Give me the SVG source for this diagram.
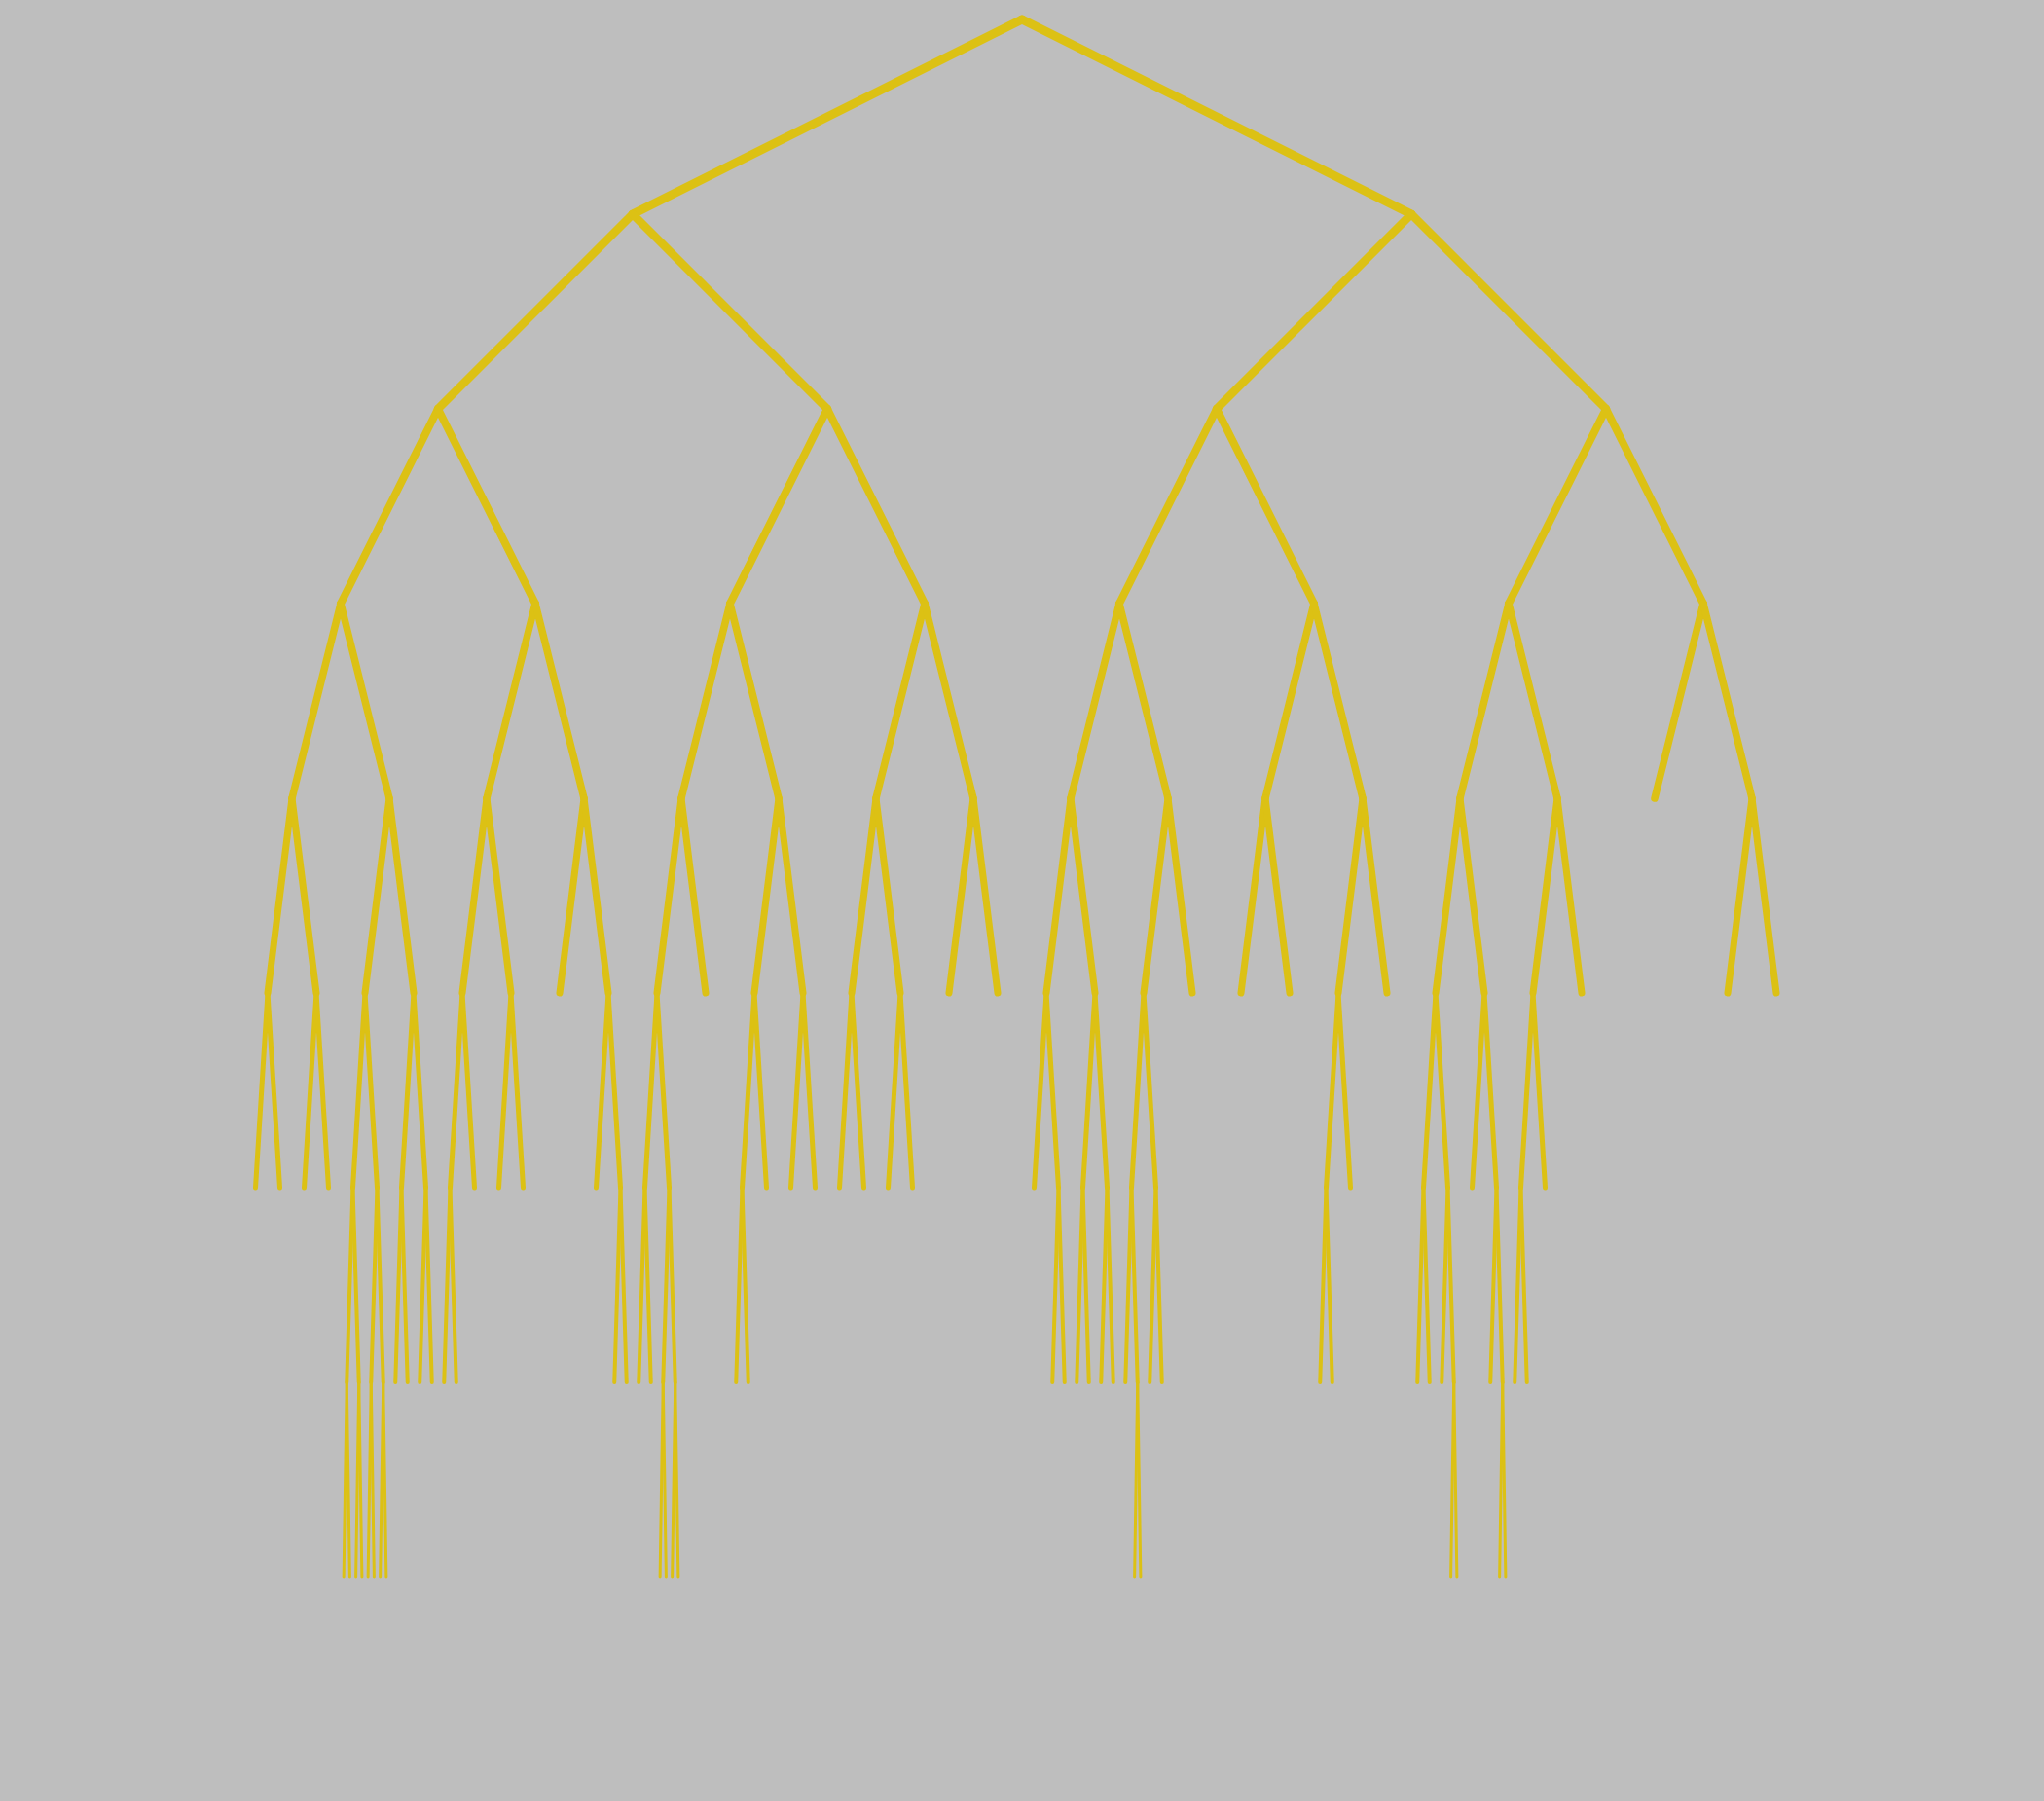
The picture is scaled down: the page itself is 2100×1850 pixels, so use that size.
<svg xmlns="http://www.w3.org/2000/svg" width="2100" height="1850" viewBox="0 0 2100 1850">
<style>
line{stroke:#dcc114;stroke-linecap:round;fill:none}
.d0{stroke-width:9}.d1{stroke-width:8.5}.d2{stroke-width:8}.d3{stroke-width:7.5}
.d4{stroke-width:7}.d5{stroke-width:5}.d6{stroke-width:4}.d7{stroke-width:3}
</style>
<rect width="2100" height="1850" fill="#bebebe"/>
<g id="connectors">
<g id="depth0" class="d0">
<line x1="1050" y1="20" x2="650" y2="220"/><line x1="1050" y1="20" x2="1450" y2="220"/>
</g>
<g id="depth1" class="d1">
<line x1="650" y1="220" x2="450" y2="420"/><line x1="650" y1="220" x2="850" y2="420"/>
<line x1="1450" y1="220" x2="1250" y2="420"/><line x1="1450" y1="220" x2="1650" y2="420"/>
</g>
<g id="depth2" class="d2">
<line x1="450" y1="420" x2="350" y2="620"/><line x1="450" y1="420" x2="550" y2="620"/>
<line x1="850" y1="420" x2="750" y2="620"/><line x1="850" y1="420" x2="950" y2="620"/>
<line x1="1250" y1="420" x2="1150" y2="620"/><line x1="1250" y1="420" x2="1350" y2="620"/>
<line x1="1650" y1="420" x2="1550" y2="620"/><line x1="1650" y1="420" x2="1750" y2="620"/>
</g>
<g id="depth3" class="d3">
<line x1="350" y1="620" x2="300" y2="820"/><line x1="350" y1="620" x2="400" y2="820"/>
<line x1="550" y1="620" x2="500" y2="820"/><line x1="550" y1="620" x2="600" y2="820"/>
<line x1="750" y1="620" x2="700" y2="820"/><line x1="750" y1="620" x2="800" y2="820"/>
<line x1="950" y1="620" x2="900" y2="820"/><line x1="950" y1="620" x2="1000" y2="820"/>
<line x1="1150" y1="620" x2="1100" y2="820"/><line x1="1150" y1="620" x2="1200" y2="820"/>
<line x1="1350" y1="620" x2="1300" y2="820"/><line x1="1350" y1="620" x2="1400" y2="820"/>
<line x1="1550" y1="620" x2="1500" y2="820"/><line x1="1550" y1="620" x2="1600" y2="820"/>
<line x1="1750" y1="620" x2="1700" y2="820"/><line x1="1750" y1="620" x2="1800" y2="820"/>
</g>
<g id="depth4" class="d4">
<line x1="300" y1="820" x2="275" y2="1020"/><line x1="300" y1="820" x2="325" y2="1020"/>
<line x1="400" y1="820" x2="375" y2="1020"/><line x1="400" y1="820" x2="425" y2="1020"/>
<line x1="500" y1="820" x2="475" y2="1020"/><line x1="500" y1="820" x2="525" y2="1020"/>
<line x1="600" y1="820" x2="575" y2="1020"/><line x1="600" y1="820" x2="625" y2="1020"/>
<line x1="700" y1="820" x2="675" y2="1020"/><line x1="700" y1="820" x2="725" y2="1020"/>
<line x1="800" y1="820" x2="775" y2="1020"/><line x1="800" y1="820" x2="825" y2="1020"/>
<line x1="900" y1="820" x2="875" y2="1020"/><line x1="900" y1="820" x2="925" y2="1020"/>
<line x1="1000" y1="820" x2="975" y2="1020"/><line x1="1000" y1="820" x2="1025" y2="1020"/>
<line x1="1100" y1="820" x2="1075" y2="1020"/><line x1="1100" y1="820" x2="1125" y2="1020"/>
<line x1="1200" y1="820" x2="1175" y2="1020"/><line x1="1200" y1="820" x2="1225" y2="1020"/>
<line x1="1300" y1="820" x2="1275" y2="1020"/><line x1="1300" y1="820" x2="1325" y2="1020"/>
<line x1="1400" y1="820" x2="1375" y2="1020"/><line x1="1400" y1="820" x2="1425" y2="1020"/>
<line x1="1500" y1="820" x2="1475" y2="1020"/><line x1="1500" y1="820" x2="1525" y2="1020"/>
<line x1="1600" y1="820" x2="1575" y2="1020"/><line x1="1600" y1="820" x2="1625" y2="1020"/>
<line x1="1800" y1="820" x2="1775" y2="1020"/><line x1="1800" y1="820" x2="1825" y2="1020"/>
</g>
<g id="depth5" class="d5">
<line x1="275" y1="1020" x2="262.5" y2="1220"/><line x1="275" y1="1020" x2="287.5" y2="1220"/>
<line x1="325" y1="1020" x2="312.5" y2="1220"/><line x1="325" y1="1020" x2="337.5" y2="1220"/>
<line x1="375" y1="1020" x2="362.5" y2="1220"/><line x1="375" y1="1020" x2="387.5" y2="1220"/>
<line x1="425" y1="1020" x2="412.5" y2="1220"/><line x1="425" y1="1020" x2="437.5" y2="1220"/>
<line x1="475" y1="1020" x2="462.5" y2="1220"/><line x1="475" y1="1020" x2="487.5" y2="1220"/>
<line x1="525" y1="1020" x2="512.5" y2="1220"/><line x1="525" y1="1020" x2="537.5" y2="1220"/>
<line x1="625" y1="1020" x2="612.5" y2="1220"/><line x1="625" y1="1020" x2="637.5" y2="1220"/>
<line x1="675" y1="1020" x2="662.5" y2="1220"/><line x1="675" y1="1020" x2="687.5" y2="1220"/>
<line x1="775" y1="1020" x2="762.5" y2="1220"/><line x1="775" y1="1020" x2="787.5" y2="1220"/>
<line x1="825" y1="1020" x2="812.5" y2="1220"/><line x1="825" y1="1020" x2="837.5" y2="1220"/>
<line x1="875" y1="1020" x2="862.5" y2="1220"/><line x1="875" y1="1020" x2="887.5" y2="1220"/>
<line x1="925" y1="1020" x2="912.5" y2="1220"/><line x1="925" y1="1020" x2="937.5" y2="1220"/>
<line x1="1075" y1="1020" x2="1062.5" y2="1220"/><line x1="1075" y1="1020" x2="1087.5" y2="1220"/>
<line x1="1125" y1="1020" x2="1112.5" y2="1220"/><line x1="1125" y1="1020" x2="1137.5" y2="1220"/>
<line x1="1175" y1="1020" x2="1162.5" y2="1220"/><line x1="1175" y1="1020" x2="1187.5" y2="1220"/>
<line x1="1375" y1="1020" x2="1362.5" y2="1220"/><line x1="1375" y1="1020" x2="1387.5" y2="1220"/>
<line x1="1475" y1="1020" x2="1462.5" y2="1220"/><line x1="1475" y1="1020" x2="1487.5" y2="1220"/>
<line x1="1525" y1="1020" x2="1512.5" y2="1220"/><line x1="1525" y1="1020" x2="1537.5" y2="1220"/>
<line x1="1575" y1="1020" x2="1562.5" y2="1220"/><line x1="1575" y1="1020" x2="1587.5" y2="1220"/>
</g>
<g id="depth6" class="d6">
<line x1="362.5" y1="1220" x2="356.25" y2="1420"/><line x1="362.5" y1="1220" x2="368.75" y2="1420"/>
<line x1="387.5" y1="1220" x2="381.25" y2="1420"/><line x1="387.5" y1="1220" x2="393.75" y2="1420"/>
<line x1="412.5" y1="1220" x2="406.25" y2="1420"/><line x1="412.5" y1="1220" x2="418.75" y2="1420"/>
<line x1="437.5" y1="1220" x2="431.25" y2="1420"/><line x1="437.5" y1="1220" x2="443.75" y2="1420"/>
<line x1="462.5" y1="1220" x2="456.25" y2="1420"/><line x1="462.5" y1="1220" x2="468.75" y2="1420"/>
<line x1="637.5" y1="1220" x2="631.25" y2="1420"/><line x1="637.5" y1="1220" x2="643.75" y2="1420"/>
<line x1="662.5" y1="1220" x2="656.25" y2="1420"/><line x1="662.5" y1="1220" x2="668.75" y2="1420"/>
<line x1="687.5" y1="1220" x2="681.25" y2="1420"/><line x1="687.5" y1="1220" x2="693.75" y2="1420"/>
<line x1="762.5" y1="1220" x2="756.25" y2="1420"/><line x1="762.5" y1="1220" x2="768.75" y2="1420"/>
<line x1="1087.5" y1="1220" x2="1081.25" y2="1420"/><line x1="1087.5" y1="1220" x2="1093.75" y2="1420"/>
<line x1="1112.5" y1="1220" x2="1106.25" y2="1420"/><line x1="1112.5" y1="1220" x2="1118.75" y2="1420"/>
<line x1="1137.5" y1="1220" x2="1131.25" y2="1420"/><line x1="1137.5" y1="1220" x2="1143.75" y2="1420"/>
<line x1="1162.5" y1="1220" x2="1156.25" y2="1420"/><line x1="1162.5" y1="1220" x2="1168.75" y2="1420"/>
<line x1="1187.5" y1="1220" x2="1181.25" y2="1420"/><line x1="1187.5" y1="1220" x2="1193.75" y2="1420"/>
<line x1="1362.5" y1="1220" x2="1356.25" y2="1420"/><line x1="1362.5" y1="1220" x2="1368.75" y2="1420"/>
<line x1="1462.5" y1="1220" x2="1456.25" y2="1420"/><line x1="1462.5" y1="1220" x2="1468.75" y2="1420"/>
<line x1="1487.5" y1="1220" x2="1481.25" y2="1420"/><line x1="1487.5" y1="1220" x2="1493.75" y2="1420"/>
<line x1="1537.5" y1="1220" x2="1531.25" y2="1420"/><line x1="1537.5" y1="1220" x2="1543.75" y2="1420"/>
<line x1="1562.5" y1="1220" x2="1556.25" y2="1420"/><line x1="1562.5" y1="1220" x2="1568.75" y2="1420"/>
</g>
<g id="depth7" class="d7">
<line x1="356.25" y1="1420" x2="353.125" y2="1620"/><line x1="356.25" y1="1420" x2="359.375" y2="1620"/>
<line x1="368.75" y1="1420" x2="365.625" y2="1620"/><line x1="368.75" y1="1420" x2="371.875" y2="1620"/>
<line x1="381.25" y1="1420" x2="378.125" y2="1620"/><line x1="381.25" y1="1420" x2="384.375" y2="1620"/>
<line x1="393.75" y1="1420" x2="390.625" y2="1620"/><line x1="393.75" y1="1420" x2="396.875" y2="1620"/>
<line x1="681.25" y1="1420" x2="678.125" y2="1620"/><line x1="681.25" y1="1420" x2="684.375" y2="1620"/>
<line x1="693.75" y1="1420" x2="690.625" y2="1620"/><line x1="693.75" y1="1420" x2="696.875" y2="1620"/>
<line x1="1168.75" y1="1420" x2="1165.625" y2="1620"/><line x1="1168.75" y1="1420" x2="1171.875" y2="1620"/>
<line x1="1493.75" y1="1420" x2="1490.625" y2="1620"/><line x1="1493.75" y1="1420" x2="1496.875" y2="1620"/>
<line x1="1543.75" y1="1420" x2="1540.625" y2="1620"/><line x1="1543.75" y1="1420" x2="1546.875" y2="1620"/>
</g>
</g>
</svg>
